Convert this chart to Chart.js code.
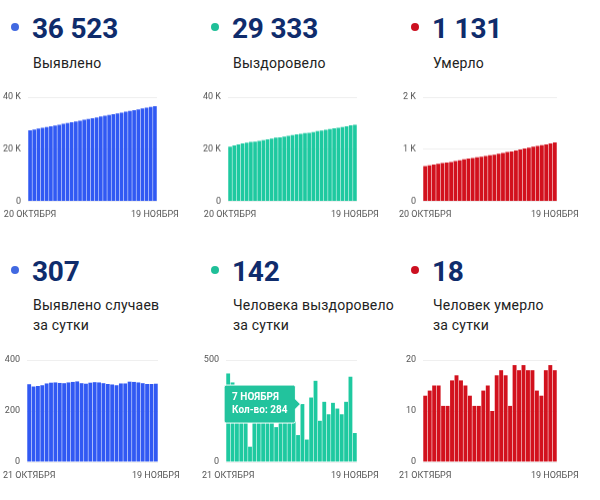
<!DOCTYPE html>
<html>
<head>
<meta charset="utf-8">
<script src="https://cdn.jsdelivr.net/npm/chart.js"></script>
<style>
  body { margin: 0; background: #fff; font-family: Roboto, sans-serif; }
  #wrap { position: relative; width: 600px; height: 500px; overflow: hidden; }
  .dot { position: absolute; width: 8px; height: 8px; border-radius: 50%; }
  .num { position: absolute; font-size: 28px; font-weight: 700; color: #0f2c6c; line-height: 30px; letter-spacing: -0.2px; }
  .lbl { position: absolute; font-size: 14px; color: #222; line-height: 20px; letter-spacing: 0.2px; }
  .box { position: absolute; }
</style>
</head>
<body>
<div id="wrap"></div>
<script>
const datesTotal = [
  '20 ОКТЯБРЯ', '21 ОКТЯБРЯ', '22 ОКТЯБРЯ', '23 ОКТЯБРЯ', '24 ОКТЯБРЯ', '25 ОКТЯБРЯ',
  '26 ОКТЯБРЯ', '27 ОКТЯБРЯ', '28 ОКТЯБРЯ', '29 ОКТЯБРЯ', '30 ОКТЯБРЯ', '31 ОКТЯБРЯ',
  '1 НОЯБРЯ', '2 НОЯБРЯ', '3 НОЯБРЯ', '4 НОЯБРЯ', '5 НОЯБРЯ', '6 НОЯБРЯ', '7 НОЯБРЯ',
  '8 НОЯБРЯ', '9 НОЯБРЯ', '10 НОЯБРЯ', '11 НОЯБРЯ', '12 НОЯБРЯ', '13 НОЯБРЯ', '14 НОЯБРЯ',
  '15 НОЯБРЯ', '16 НОЯБРЯ', '17 НОЯБРЯ', '18 НОЯБРЯ', '19 НОЯБРЯ'
];
const datesDaily = datesTotal.slice(1);

const casesTotal = [
  27274, 27579, 27875, 28173, 28474, 28782, 29093, 29405, 29715, 30024, 30336,
  30650, 30966, 31275, 31582, 31893, 32206, 32518, 32827, 33133, 33437, 33738,
  34046, 34354, 34669, 34983, 35295, 35604, 35910, 36216, 36523
];
const recoveredTotal = [
  21001, 21435, 21825, 22185, 22525, 22825, 22900, 23220, 23520, 23800, 24090,
  24400, 24571, 24871, 25151, 25451, 25721, 25853, 26137, 26247, 26563, 26961,
  27163, 27458, 27692, 27982, 28244, 28478, 28773, 29191, 29333
];
const deathsTotal = [
  677, 690, 704, 719, 734, 745, 756, 772, 789, 805, 820, 833, 844, 855, 869, 884,
  894, 911, 929, 946, 957, 976, 994, 1013, 1031, 1049, 1063, 1076, 1094, 1113, 1131
];

const casesDaily = [
  305, 296, 298, 301, 308, 311, 312, 310, 309, 312, 314, 316, 309, 307, 311,
  313, 312, 309, 306, 304, 301, 308, 308, 315, 314, 312, 309, 306, 306, 307
];
const recoveredDaily = [
  434, 390, 360, 340, 300, 75, 320, 300, 280, 290, 310, 171, 300, 280, 300,
  270, 132, 284, 110, 316, 398, 202, 295, 234, 290, 262, 234, 295, 418, 142
];
const deathsDaily = [
  13, 14, 15, 15, 11, 11, 16, 17, 16, 15, 13, 11, 11, 14, 15,
  10, 17, 18, 17, 11, 19, 18, 19, 18, 18, 14, 13, 18, 19, 18
];

const blue = '#3159f3';
const teal = '#1ec9a0';
const red = '#d2111d';

const panels = [
  { num: '36 523', text: 'Выявлено', dot: '#4169e1', color: blue, labels: datesTotal, data: casesTotal,
    max: 40000, step: 20000, k: true, x: 0, top: 0, left: 1, width: 178 },
  { num: '29 333', text: 'Выздоровело', dot: '#1fbf98', color: teal, labels: datesTotal, data: recoveredTotal,
    max: 40000, step: 20000, k: true, x: 200, top: 0, left: 201, width: 178 },
  { num: '1 131', text: 'Умерло', dot: '#cc1020', color: red, labels: datesTotal, data: deathsTotal,
    max: 2000, step: 1000, k: true, x: 400, top: 0, left: 396, width: 183 },
  { num: '307', text: 'Выявлено случаев<br>за сутки', dot: '#4169e1', color: blue, labels: datesDaily, data: casesDaily,
    max: 400, step: 200, k: false, x: 0, top: 1, left: 0, width: 180 },
  { num: '142', text: 'Человека выздоровело<br>за сутки', dot: '#1fbf98', color: teal, labels: datesDaily, data: recoveredDaily,
    max: 500, step: 500, k: false, x: 200, top: 1, left: 199, width: 180, tip: 17 },
  { num: '18', text: 'Человек умерло<br>за сутки', dot: '#cc1020', color: red, labels: datesDaily, data: deathsDaily,
    max: 20, step: 10, k: false, x: 400, top: 1, left: 396, width: 183 }
];

const wrap = document.getElementById('wrap');

function addHeader(p) {
  const rowY = p.top ? 244 : 1;
  const dot = document.createElement('div');
  dot.className = 'dot';
  dot.style.background = p.dot;
  dot.style.left = (p.x + 11) + 'px';
  dot.style.top = (rowY + 22) + 'px';
  wrap.appendChild(dot);

  const num = document.createElement('div');
  num.className = 'num';
  num.textContent = p.num;
  num.style.left = (p.x + 32) + 'px';
  num.style.top = (rowY + 13) + 'px';
  wrap.appendChild(num);

  const lbl = document.createElement('div');
  lbl.className = 'lbl';
  lbl.innerHTML = p.text;
  lbl.style.left = (p.x + 33) + 'px';
  lbl.style.top = (rowY + (p.top ? 51 : 52)) + 'px';
  wrap.appendChild(lbl);
}

// chart.js adds room for the edge tick labels; the reference lets them hang out
function noEdgePadding(scale) {
  scale.paddingLeft = 0;
  scale.paddingRight = 0;
  scale.paddingTop = 0;
  scale.paddingBottom = 0;
}

function addChart(p) {
  const box = document.createElement('div');
  box.className = 'box';
  box.style.left = p.left + 'px';
  box.style.top = (p.top ? 352 : 89) + 'px';
  box.style.width = p.width + 'px';
  box.style.height = (p.top ? 134 : 135.5) + 'px';
  const canvas = document.createElement('canvas');
  box.appendChild(canvas);
  wrap.appendChild(box);

  const chart = new Chart(canvas, {
    type: 'bar',
    data: {
      labels: p.labels,
      datasets: [{
        data: p.data,
        backgroundColor: p.color,
        hoverBackgroundColor: p.color,
        borderWidth: 0,
        barPercentage: 0.88,
        categoryPercentage: 1
      }]
    },
    options: {
      responsive: true,
      maintainAspectRatio: false,
      animation: false,
      events: [],
      layout: { padding: { top: 8, right: 22, bottom: 0, left: 0 } },
      plugins: {
        legend: { display: false },
        tooltip: {
          enabled: true,
          backgroundColor: '#22c39d',
          borderColor: '#ffffff',
          borderWidth: 1,
          cornerRadius: 2,
          displayColors: false,
          xAlign: 'right',
          yAlign: 'center',
          caretSize: 5,
          caretPadding: 2,
          padding: { x: 8, y: 6 },
          titleMarginBottom: 0,
          titleFont: { family: 'Roboto', size: 10, weight: 'bold', lineHeight: 1.3 },
          bodyFont: { family: 'Roboto', size: 10, weight: 'bold', lineHeight: 1.3 },
          titleColor: '#fff',
          bodyColor: '#fff',
          callbacks: {
            title: items => items[0].label,
            label: item => 'Кол-во: ' + item.raw
          }
        }
      },
      scales: {
        x: {
          grid: { display: false, drawTicks: false },
          border: { display: false },
          afterFit: scale => { scale.height = 24; noEdgePadding(scale); },
          ticks: {
            autoSkip: false,
            maxRotation: 0,
            minRotation: 0,
            padding: 8,
            color: '#555',
            font: { family: 'Roboto', size: 9 },
            callback: function (v, i, ticks) {
              return (i === 0 || i === ticks.length - 1) ? this.getLabelForValue(v) : '';
            }
          }
        },
        y: {
          min: 0,
          max: p.max,
          grid: { color: '#efefef', drawTicks: false },
          border: { display: false },
          afterFit: scale => { scale.width = 27; noEdgePadding(scale); },
          ticks: {
            stepSize: p.step,
            padding: 7,
            color: '#555',
            font: { family: 'Roboto', size: 9 },
            callback: v => (p.k && v !== 0) ? (v / 1000) + ' K' : v
          }
        }
      }
    }
  });

  if (p.tip !== undefined) {
    chart.tooltip.setActiveElements([{ datasetIndex: 0, index: p.tip }], { x: 0, y: 0 });
    chart.update();
  }
}

panels.forEach(p => {
  addHeader(p);
  addChart(p);
});
</script>
</body>
</html>
